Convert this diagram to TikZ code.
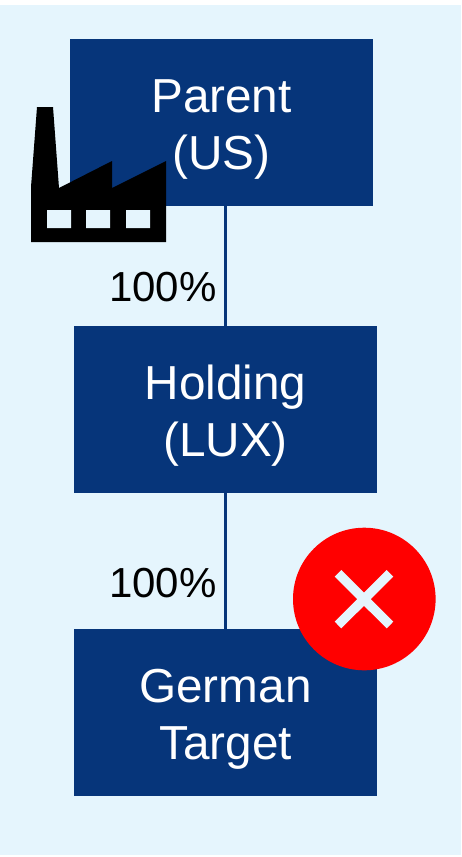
\documentclass[tikz,border=0pt]{standalone}
\usepackage{fontspec}
\setmainfont{Liberation Sans}
\definecolor{navy}{HTML}{06357A}
\definecolor{panel}{HTML}{E5F5FD}
\newcommand{\toprl}{\rule{0pt}{48pt}}
\newcommand{\botrl}{\rule[-12pt]{0pt}{12pt}}
\tikzset{
  entity/.style={fill=navy,text=white,minimum width=303pt,minimum height=167pt,inner sep=0pt,align=center,font=\fontsize{47.7}{57}\selectfont},
  link/.style={draw=navy,line width=2.4pt},
  share/.style={inner sep=0pt,font=\fontsize{42}{48}\selectfont,text=black},
}
\begin{document}
\begin{tikzpicture}[x=1pt,y=-1pt]
\useasboundingbox (0,0) rectangle (461,857);
\fill[panel] (0,5) rectangle (461,855);
\node[entity] (parent) at (221.5,122.5) {\toprl Parent\\(US)\botrl};
\node[entity] (holding) at (225.5,409.5) {\toprl Holding\\(LUX)\botrl};
\node[entity] (target) at (225.5,712.5) {\toprl German\\Target\botrl};
\draw[link] (holding.north) -- (holding.north |- parent.south);
\draw[link] (target.north) -- (holding.south);
\node[share] (p1) at (163,287) {100\%};
\node[share] (p2) at (163,583) {100\%};
% factory
\fill[black] (37,107) -- (53,107) -- (59,188) -- (112,161) -- (112,188) -- (166,161) -- (166,242) -- (31,242) -- (31,187) -- cycle;
\fill[panel] (47,210) rectangle (71,228) (86,210) rectangle (110,228) (126,210) rectangle (150,228);
% cross mark
\fill[red] (364.3,599) circle[radius=71.3];
\draw[panel,line width=9.4pt] (338,573.3) -- (390,625) (390,573.3) -- (338,625);
\end{tikzpicture}
\end{document}
